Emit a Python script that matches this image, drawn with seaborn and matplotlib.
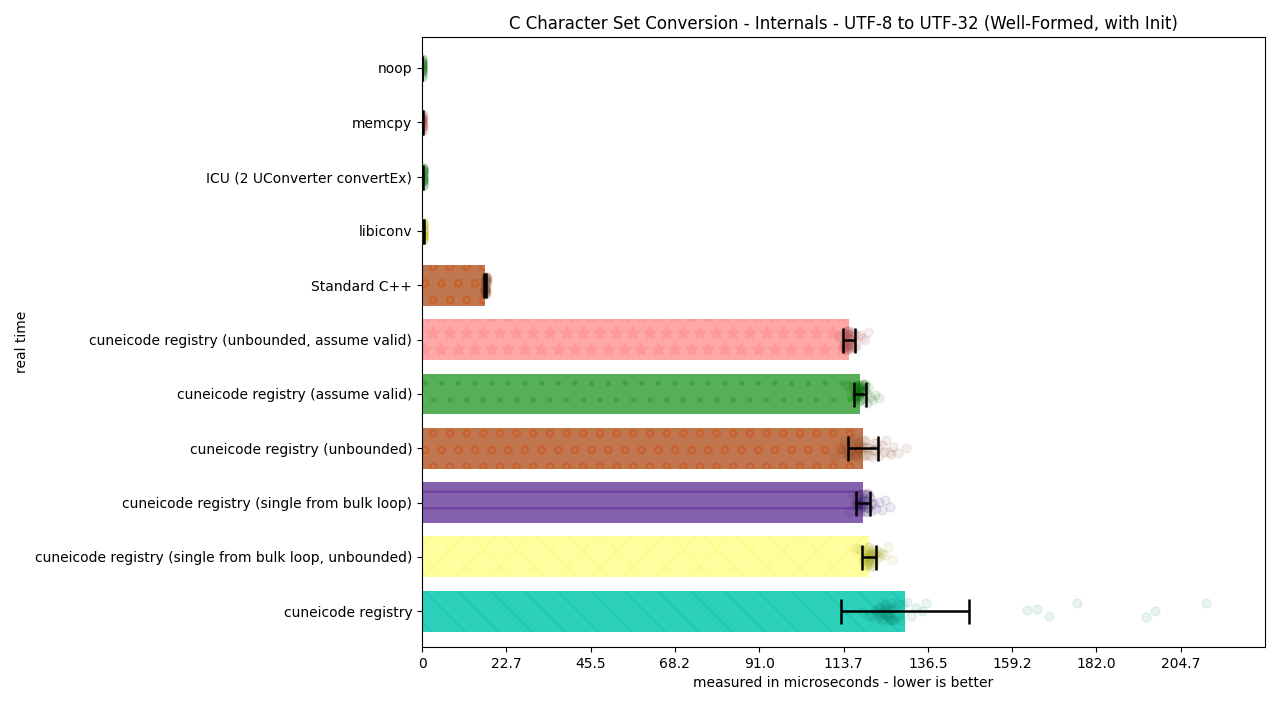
import numpy as np
import pandas as pd
import matplotlib
matplotlib.use("Agg")
import matplotlib.pyplot as plt
import seaborn as sns

# ---------------- data ----------------
categories = [
    "noop",
    "memcpy",
    "ICU (2 UConverter convertEx)",
    "libiconv",
    "Standard C++",
    "cuneicode registry (unbounded, assume valid)",
    "cuneicode registry (assume valid)",
    "cuneicode registry (unbounded)",
    "cuneicode registry (single from bulk loop)",
    "cuneicode registry (single from bulk loop, unbounded)",
    "cuneicode registry",
]
means = [0.05, 0.12, 0.25, 0.35, 17.0, 115.2, 118.2, 119.0, 119.1, 120.6, 130.3]
errors = [0.03, 0.05, 0.12, 0.15, 0.35, 1.6, 1.6, 4.1, 1.9, 1.9, 17.3]

samples_noop = [0.02, 0.03, 0.05, 0.04, 0.06, 0.03, 0.05, 0.08, 0.04, 0.05,
                0.06, 0.03, 0.07, 0.04, 0.05, 0.02, 0.06, 0.05, 0.04, 0.1,
                0.03, 0.05, 0.06, 0.04, 0.05, 0.07, 0.03, 0.04, 0.06, 0.05]
samples_memcpy = [0.10, 0.12, 0.15, 0.11, 0.13, 0.09, 0.14, 0.12, 0.10, 0.16,
                  0.12, 0.13, 0.11, 0.15, 0.10, 0.12, 0.14, 0.13, 0.11, 0.12,
                  0.11, 0.13, 0.12, 0.14, 0.10, 0.12, 0.13, 0.11, 0.12, 0.14]
samples_icu = [0.20, 0.25, 0.30, 0.22, 0.28, 0.24, 0.26, 0.21, 0.33, 0.27,
               0.23, 0.25, 0.29, 0.22, 0.26, 0.24, 0.31, 0.20, 0.25, 0.27,
               0.24, 0.26, 0.23, 0.28, 0.25, 0.22, 0.27, 0.24, 0.26, 0.25]
samples_libiconv = [0.30, 0.35, 0.40, 0.32, 0.38, 0.34, 0.36, 0.31, 0.45, 0.37,
                    0.33, 0.35, 0.39, 0.32, 0.36, 0.34, 0.42, 0.30, 0.35, 0.37,
                    0.34, 0.36, 0.33, 0.38, 0.35, 0.32, 0.37, 0.34, 0.36, 0.35]
samples_std = [16.9, 17.0, 17.1, 17.2, 17.3, 17.1, 17.0, 17.2, 17.4, 17.1,
               17.2, 17.3, 17.0, 17.1, 17.5, 17.2, 17.1, 17.3, 17.0, 17.2,
               17.1, 17.2, 17.3, 17.2, 17.1, 17.0, 17.2, 17.4, 17.1, 17.2]
samples_unb_valid = [112.6, 113.1, 113.5, 113.8, 114.0, 114.2, 114.4, 114.5, 114.7, 114.9,
                     115.0, 115.1, 115.3, 115.4, 115.6, 115.8, 116.0, 116.2, 116.5, 116.8,
                     117.2, 117.6, 118.1, 118.7, 119.4, 120.2, 114.6, 115.2, 113.9, 115.5,
                     114.3, 114.8, 115.0, 115.2, 115.4, 114.6, 114.9, 115.1, 115.3, 115.7,
                     114.1, 114.5, 115.0, 115.6, 116.1, 114.7, 115.2, 114.4, 115.9, 116.3]
samples_valid = [114.6, 115.3, 115.8, 116.2, 116.5, 116.8, 117.0, 117.2, 117.4, 117.6,
                 117.8, 118.0, 118.1, 118.3, 118.5, 118.7, 118.9, 119.1, 119.3, 119.6,
                 119.9, 120.3, 120.8, 121.4, 122.2, 123.4, 117.5, 118.2, 117.9, 118.6,
                 117.3, 117.7, 118.0, 118.2, 118.4, 118.8, 117.6, 118.1, 118.5, 119.0,
                 117.1, 117.9, 118.3, 118.7, 119.2, 117.4, 118.0, 118.6, 119.4, 120.0]
samples_unb = [111.2, 112.4, 113.3, 114.0, 114.6, 115.1, 115.6, 116.0, 116.5, 116.9,
               117.4, 117.8, 118.2, 118.7, 119.1, 119.6, 120.1, 120.7, 121.3, 121.9,
               122.6, 123.4, 124.2, 125.1, 126.0, 127.2, 128.4, 130.6, 117.0, 119.4,
               114.2, 115.0, 115.8, 116.6, 117.2, 118.0, 118.9, 119.8, 120.5, 121.6,
               113.8, 114.8, 116.2, 117.6, 118.4, 119.2, 122.0, 123.0, 124.6, 126.5]
samples_bulk = [115.3, 116.0, 116.6, 117.0, 117.4, 117.7, 118.0, 118.3, 118.5, 118.8,
                119.0, 119.2, 119.5, 119.7, 120.0, 120.3, 120.6, 121.0, 121.4, 121.9,
                122.5, 123.2, 124.1, 125.0, 126.2, 118.9, 119.3, 118.1, 119.8, 120.4,
                117.2, 117.8, 118.2, 118.6, 119.1, 119.4, 119.9, 120.2, 117.5, 118.4,
                118.7, 119.0, 119.6, 120.8, 117.9, 118.8, 119.2, 120.1, 121.2, 118.0]
samples_bulk_unb = [117.0, 117.8, 118.4, 118.9, 119.3, 119.6, 119.9, 120.2, 120.5, 120.8,
                    121.0, 121.3, 121.6, 121.9, 122.2, 122.6, 123.0, 123.5, 124.1, 124.8,
                    125.6, 126.8, 120.4, 121.1, 120.7, 121.5, 119.8, 122.0, 120.1, 121.8,
                    119.5, 120.0, 120.3, 120.6, 120.9, 121.2, 121.4, 121.7, 120.2, 120.8,
                    119.7, 120.4, 121.0, 121.6, 122.4, 120.5, 121.1, 119.9, 122.8, 123.3]
samples_registry = [119.0, 120.2, 121.0, 121.6, 122.1, 122.5, 122.9, 123.3, 123.7, 124.0,
                    124.4, 124.7, 125.0, 125.4, 125.7, 126.0, 126.4, 126.8, 127.2, 127.6,
                    128.1, 128.6, 129.2, 129.9, 130.8, 131.9, 133.2, 134.8, 136.0, 124.9,
                    125.6, 123.9, 126.2, 127.0, 123.5, 124.2, 124.6, 125.2, 125.8, 126.6,
                    123.1, 124.8, 125.5, 126.1, 127.4, 122.7, 124.3, 125.9, 126.9, 128.3,
                    163.2, 166.0, 169.2, 176.7, 195.4, 197.8, 211.5]

all_samples = [samples_noop, samples_memcpy, samples_icu, samples_libiconv, samples_std,
               samples_unb_valid, samples_valid, samples_unb, samples_bulk,
               samples_bulk_unb, samples_registry]

xtick_values = [0, 22.745, 45.49, 68.235, 90.98, 113.725, 136.47, 159.215, 181.96, 204.705]
xtick_labels = ["0", "22.7", "45.5", "68.2", "91.0", "113.7", "136.5", "159.2", "182.0", "204.7"]
x_max = 227.45

# ---------------- styles ----------------
bar_colors = ["#57b057", "#ffa8a8", "#57b057", "#ffffa0", "#c0764f",
              "#ffa8a8", "#57b057", "#c0764f", "#8562ad", "#ffffa0", "#2dd1bb"]
hatch_colors = ["#38a838", "#ff9898", "#38a838", "#fffa8e", "#c8622e",
                "#ff9898", "#38a838", "#c8622e", "#6f3fa0", "#fffa8e", "#1ccab0"]
hatches = [".", "*", ".", "x", "o", "*", ".", "o", "-", "x", "\\"]
point_colors = ["#1f7a1f", "#c05a5a", "#1f7a1f", "#c8c020", "#8a4a2a",
                "#b05050", "#0a6a0a", "#8a4a2a", "#3f2070", "#a8a828", "#0a8a74"]

plt.rcParams["hatch.linewidth"] = 1.4

# ---------------- plot ----------------
fig = plt.figure(figsize=(12.8, 7.2), dpi=100)
ax = fig.add_axes([0.3297, 0.1014, 0.9883 - 0.3297, 0.9486 - 0.1014])

df = pd.DataFrame({"category": categories, "value": means})
sns.barplot(data=df, x="value", y="category", hue="category", order=categories,
            hue_order=categories, palette=bar_colors, legend=False, width=0.75,
            orient="h", errorbar=None, saturation=1, ax=ax)

for p in ax.patches:
    idx = int(round(p.get_y() + p.get_height() / 2))
    p.set_hatch(hatches[idx])
    p.set_edgecolor(hatch_colors[idx])
    p.set_linewidth(0)

np.random.seed(3)
for i, (cat, vals) in enumerate(zip(categories, all_samples)):
    sdf = pd.DataFrame({"category": [cat] * len(vals), "value": vals})
    sns.stripplot(data=sdf, x="value", y="category", order=categories, orient="h",
                  color=point_colors[i], alpha=0.09, size=6.5, jitter=0.18,
                  linewidth=1, edgecolor=point_colors[i], ax=ax, zorder=3)

ax.errorbar(means, np.arange(len(categories)), xerr=errors, fmt="none",
            ecolor="black", elinewidth=1.8, capsize=9, capthick=1.8, zorder=5)

ax.set_xlim(0, x_max)
ax.set_ylim(10.66, -0.57)
ax.set_xticks(xtick_values)
ax.set_xticklabels(xtick_labels)
ax.set_xlabel("measured in microseconds - lower is better")
ax.set_ylabel("real time")
ax.set_title("C Character Set Conversion - Internals - UTF-8 to UTF-32 (Well-Formed, with Init)",
             fontsize=12)
for s in ax.spines.values():
    s.set_visible(True)
    s.set_color("black")

fig.savefig("out.png", dpi=100)
